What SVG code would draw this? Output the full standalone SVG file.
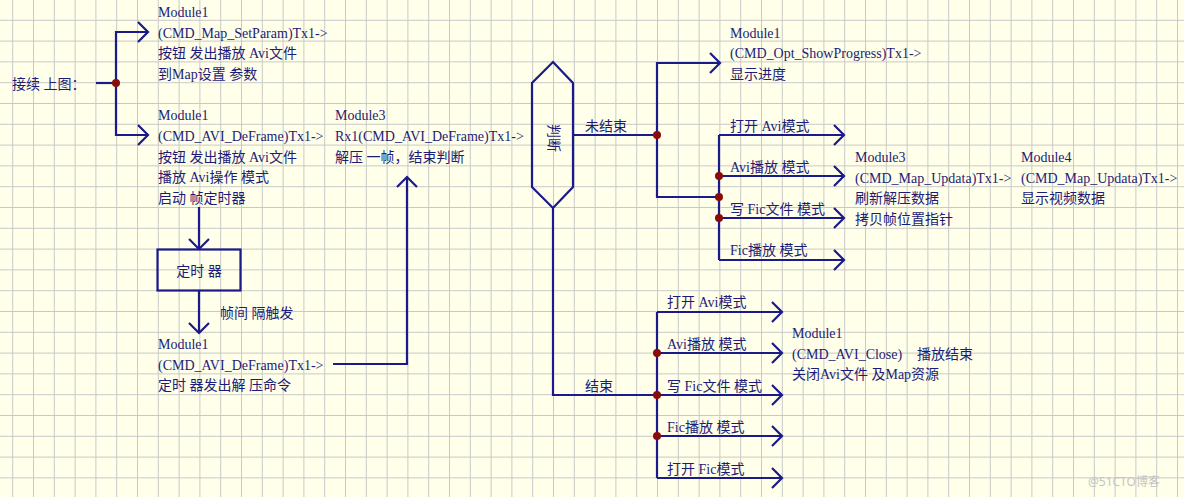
<svg xmlns="http://www.w3.org/2000/svg" width="1184" height="497" viewBox="0 0 1184 497">
  <defs>
    <pattern id="grid" x="12.2" y="19.8" width="20.8" height="20.8" patternUnits="userSpaceOnUse">
      <rect x="0" y="0" width="20.8" height="1" fill="#c8c8c8"/>
      <rect x="0" y="0" width="1" height="20.8" fill="#c8c8c8"/>
    </pattern>
    <marker id="arr" markerUnits="userSpaceOnUse" markerWidth="24" markerHeight="24" viewBox="-12 -12 24 24" refX="0" refY="0" orient="auto" overflow="visible">
      <path d="M-10,-10 L0,0 L-10,10" fill="none" stroke="#1a1a8a" stroke-width="2.2"/>
    </marker>
    <style>
      .t { font-family: "Liberation Serif", "Noto Sans CJK SC", serif; font-size: 14px; fill: #1c1c78; white-space: pre; }
      .c { fill: none; stroke: #1a1a8a; stroke-width: 2.2; }
      .a { fill: none; stroke: #1a1a8a; stroke-width: 2.2; marker-end: url(#arr); }
      .d { fill: #8b0a0a; }
      .shape { fill: none; stroke: #1a1a8a; stroke-width: 2.2; }
    </style>
  </defs>
  <rect x="0" y="0" width="1184" height="497" fill="#ffffea"/>
  <rect x="0" y="0" width="1184" height="497" fill="url(#grid)"/>

  <g id="connectors">
    <path class="c" d="M96 83 H116"/>
    <path class="a" d="M116 83 V32 H148"/>
    <path class="a" d="M116 83 V135 H148"/>
    <path class="a" d="M199 207 V249"/>
    <path class="a" d="M199 291 V333"/>
    <path class="a" d="M333 364 H407 V177"/>
    <path class="c" d="M573 135 H657"/>
    <path class="a" d="M657 135 V63 H720"/>
    <path class="c" d="M657 135 V197 H719"/>
    <path class="c" d="M719 135 V260"/>
    <path class="a" d="M719 135 H844"/>
    <path class="a" d="M719 176 H844"/>
    <path class="a" d="M719 218 H844"/>
    <path class="a" d="M719 260 H844"/>
    <path class="c" d="M553 208 V395 H657"/>
    <path class="c" d="M657 312 V478"/>
    <path class="a" d="M657 312 H782"/>
    <path class="a" d="M657 353 H782"/>
    <path class="a" d="M657 395 H782"/>
    <path class="a" d="M657 436 H782"/>
    <path class="a" d="M657 478 H782"/>
    <circle class="d" cx="116" cy="83" r="4"/>
    <circle class="d" cx="657" cy="135" r="4"/>
    <circle class="d" cx="719" cy="176" r="4"/>
    <circle class="d" cx="719" cy="197" r="4"/>
    <circle class="d" cx="719" cy="218" r="4"/>
    <circle class="d" cx="657" cy="353" r="4"/>
    <circle class="d" cx="657" cy="395" r="4"/>
    <circle class="d" cx="657" cy="436" r="4"/>
    <text class="t" x="585" y="131">未结束</text>
    <text class="t" x="585" y="391">结束</text>
    <text class="t" x="220" y="318">帧间 隔触发</text>
    <text class="t" x="730" y="131">打开 Avi模式</text>
    <text class="t" x="730" y="172">Avi播放 模式</text>
    <text class="t" x="730" y="214">写 Fic文件 模式</text>
    <text class="t" x="730" y="255">Fic播放 模式</text>
    <text class="t" x="667" y="307">打开 Avi模式</text>
    <text class="t" x="667" y="349">Avi播放 模式</text>
    <text class="t" x="667" y="391">写 Fic文件 模式</text>
    <text class="t" x="667" y="432">Fic播放 模式</text>
    <text class="t" x="667" y="474">打开 Fic模式</text>
  </g>

  <g id="start">
    <text class="t" x="12" y="89">接续 上图：</text>
  </g>

  <g id="setparam">
    <text class="t" x="158" y="17">Module1</text>
    <text class="t" x="158" y="38">(CMD_Map_SetParam)Tx1-&gt;</text>
    <text class="t" x="158" y="58">按钮 发出播放 Avi文件</text>
    <text class="t" x="158" y="79">到Map设置 参数</text>
  </g>

  <g id="deframe1">
    <text class="t" x="158" y="120">Module1</text>
    <text class="t" x="158" y="141">(CMD_AVI_DeFrame)Tx1-&gt;</text>
    <text class="t" x="158" y="162">按钮 发出播放 Avi文件</text>
    <text class="t" x="158" y="182">播放 Avi操作 模式</text>
    <text class="t" x="158" y="203">启动 帧定时器</text>
  </g>

  <g id="timer">
    <rect class="shape" x="157.5" y="249.5" width="83" height="41"/>
    <text class="t" x="199" y="276" text-anchor="middle">定时 器</text>
  </g>

  <g id="deframe2">
    <text class="t" x="158" y="349">Module1</text>
    <text class="t" x="158" y="370">(CMD_AVI_DeFrame)Tx1-&gt;</text>
    <text class="t" x="158" y="390">定时 器发出解 压命令</text>
  </g>

  <g id="module3">
    <text class="t" x="335" y="120">Module3</text>
    <text class="t" x="335" y="141">Rx1(CMD_AVI_DeFrame)Tx1-&gt;</text>
    <text class="t" x="335" y="162">解压 一帧，结束判断</text>
  </g>

  <g id="decision">
    <polygon class="shape" points="553,62 573,83 573,187 553,208 532,187 532,83"/>
    <text class="t" transform="translate(553,138) rotate(90)" text-anchor="middle" dominant-baseline="central">判断</text>
  </g>

  <g id="progress">
    <text class="t" x="730" y="38">Module1</text>
    <text class="t" x="730" y="58">(CMD_Opt_ShowProgress)Tx1-&gt;</text>
    <text class="t" x="730" y="79">显示进度</text>
  </g>

  <g id="mapupdate3">
    <text class="t" x="855" y="162">Module3</text>
    <text class="t" x="855" y="183">(CMD_Map_Updata)Tx1-&gt;</text>
    <text class="t" x="855" y="203">刷新解压数据</text>
    <text class="t" x="855" y="224">拷贝帧位置指针</text>
  </g>

  <g id="mapupdate4">
    <text class="t" x="1021" y="162">Module4</text>
    <text class="t" x="1021" y="183">(CMD_Map_Updata)Tx1-&gt;</text>
    <text class="t" x="1021" y="203">显示视频数据</text>
  </g>

  <g id="close">
    <text class="t" x="792" y="338">Module1</text>
    <text class="t" x="792" y="359">(CMD_AVI_Close)  <tspan x="917">播放结束</tspan></text>
    <text class="t" x="792" y="379">关闭Avi文件 及Map资源</text>
  </g>

  <text x="1088" y="486" style="font-family: 'Noto Sans', 'Noto Sans CJK SC', sans-serif; font-size: 12px; fill: #c4c4c4;">@51CTO博客</text>
</svg>
